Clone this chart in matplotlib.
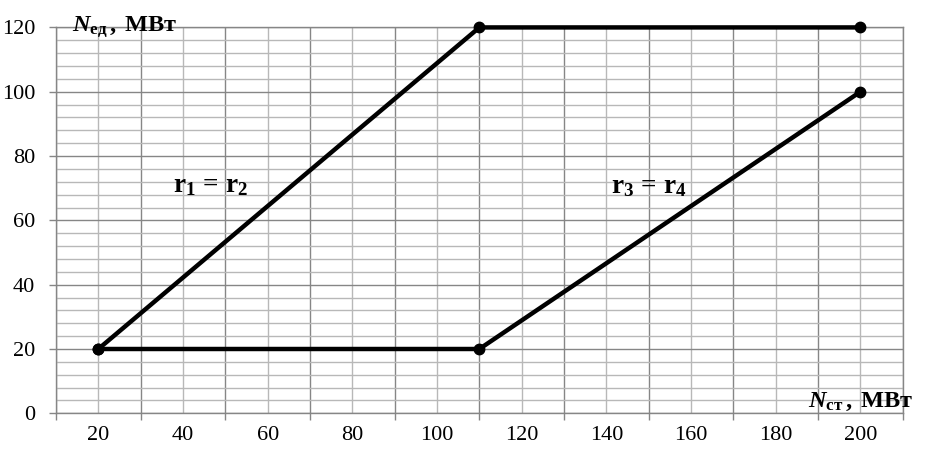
import matplotlib
matplotlib.use("Agg")
import matplotlib.pyplot as plt
import numpy as np

# ── Data ──────────────────────────────────────────────────────────────────────
# upper branch (r1 = r2): rise then flat
x_upper = [20, 110, 200]
y_upper = [20, 120, 120]
# lower branch (r3 = r4): flat then rise
x_lower = [20, 110, 200]
y_lower = [20, 20, 100]

x_labels = [20, 40, 60, 80, 100, 120, 140, 160, 180, 200]
y_labels = [0, 20, 40, 60, 80, 100, 120]

# ── Fonts ─────────────────────────────────────────────────────────────────────
plt.rcParams["font.family"] = ["Liberation Serif", "DejaVu Serif"]
plt.rcParams["mathtext.fontset"] = "custom"
plt.rcParams["mathtext.rm"] = "Liberation Serif"
plt.rcParams["mathtext.it"] = "Liberation Serif:italic"
plt.rcParams["mathtext.bf"] = "Liberation Serif:bold"
plt.rcParams["mathtext.bfit"] = "Liberation Serif:bold:italic"

MAJ, MIN = "#868686", "#b8b8b8"

fig = plt.figure(figsize=(9.35, 4.57), dpi=100, facecolor="white")
ax = fig.add_axes([0.0599, 0.0956, 0.9056, 0.8444])

ax.set_xlim(10, 210)
ax.set_ylim(0, 120)

# x: darker grid/ticks between labels, lighter grid at labels
ax.set_xticks(np.arange(10, 211, 20))
ax.set_xticklabels([])
ax.set_xticks(x_labels, minor=True)
ax.set_xticklabels([str(v) for v in x_labels], minor=True, fontsize=16)
ax.tick_params(axis="x", which="major", length=5, width=1, color=MAJ, direction="out")
ax.tick_params(axis="x", which="minor", length=0, pad=9)

# y: labelled major every 20, light minor every 4
ax.set_yticks(y_labels)
ax.set_yticklabels([str(v) for v in y_labels], fontsize=16)
ax.set_yticks(np.arange(0, 121, 4), minor=True)
ax.tick_params(axis="y", which="major", length=5, width=1, color=MAJ, pad=10)
ax.tick_params(axis="y", which="minor", length=0)

ax.grid(True, which="major", color=MAJ, lw=1.0)
ax.grid(True, which="minor", color=MIN, lw=1.0)
ax.set_axisbelow(True)
for s in ax.spines.values():
    s.set_color(MAJ)
    s.set_linewidth(1.0)

ax.plot(x_upper, y_upper, color="black", lw=3.2, marker="o", ms=7.5,
        solid_capstyle="butt", clip_on=False, zorder=5)
ax.plot(x_lower, y_lower, color="black", lw=3.2, marker="o", ms=7.5,
        solid_capstyle="butt", clip_on=False, zorder=5)

# ── Annotations ───────────────────────────────────────────────────────────────
ax.text(13.8, 118.7, r"$\mathbfit{N}_{\mathbf{ед}}\mathbf{\,,\ МВт}$",
        fontsize=17.5, ha="left", va="baseline", zorder=6, clip_on=False)
ax.text(212.6, 1.9, r"$\mathbfit{N}_{\mathbf{ст}}\mathbf{\,,\ МВт}$",
        fontsize=17.5, ha="right", va="baseline", zorder=6, clip_on=False)
ax.text(37.6, 68.9, r"$\mathbf{r_1\,=\,r_2}$", fontsize=19.5, ha="left", va="baseline")
ax.text(141.1, 68.6, r"$\mathbf{r_3\,=\,r_4}$", fontsize=19.5, ha="left", va="baseline")

fig.savefig("out.png", dpi=100, facecolor="white")
